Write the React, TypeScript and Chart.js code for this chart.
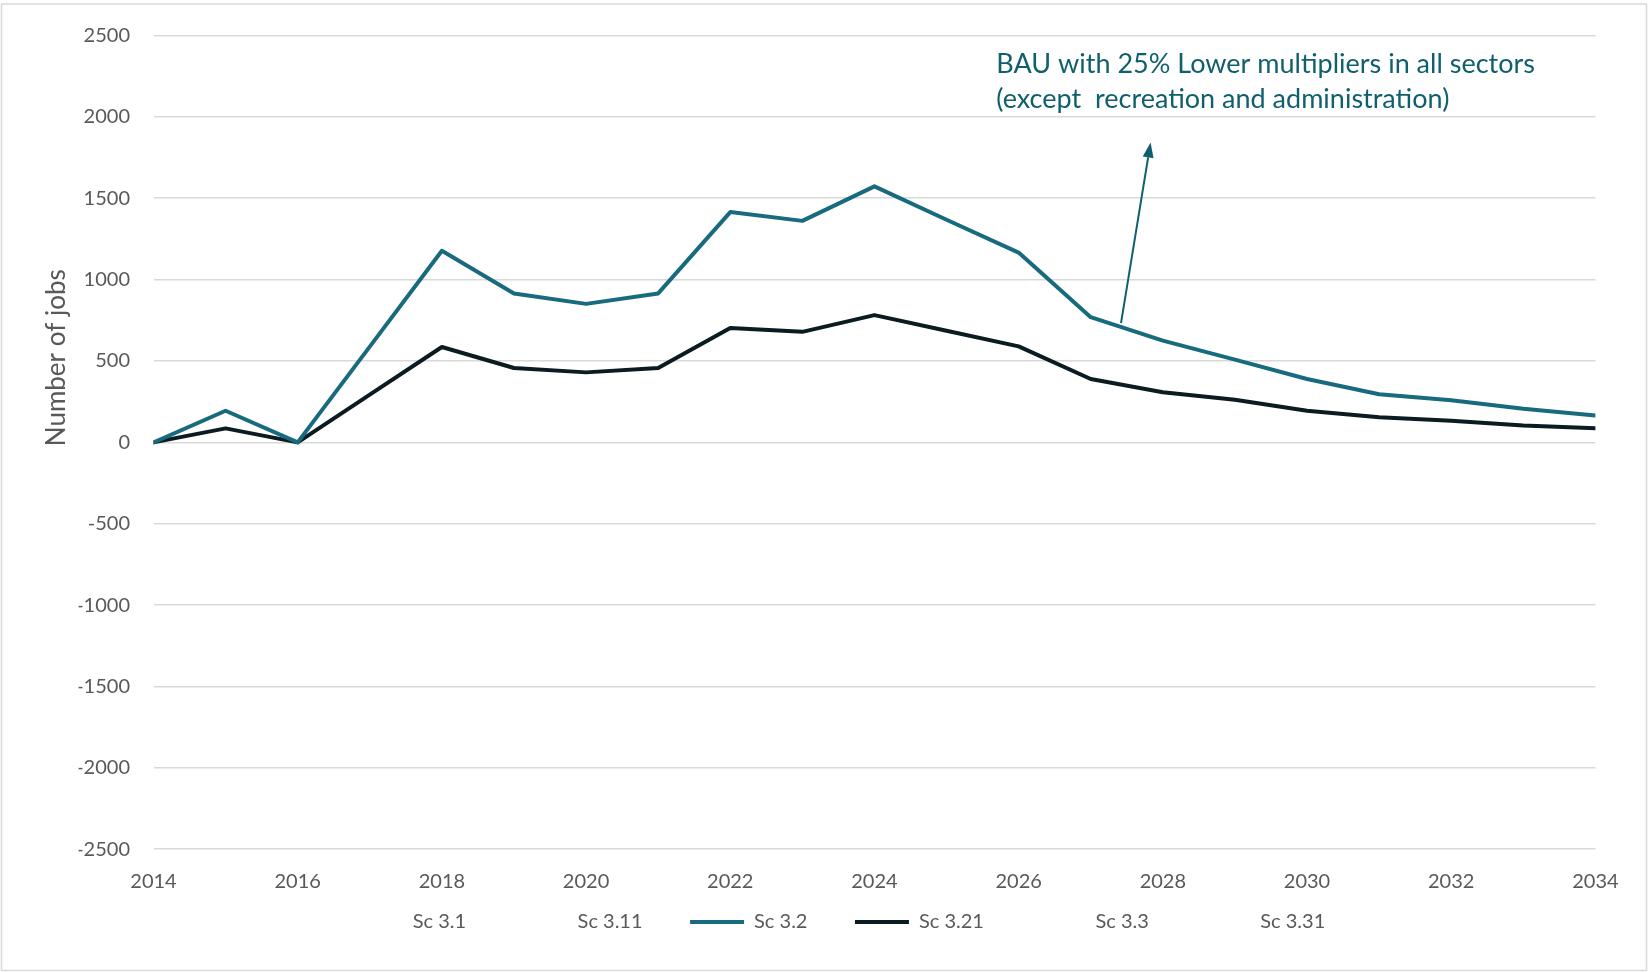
import { useEffect, useRef } from "react";
import { Chart, registerables } from "chart.js";

Chart.register(...registerables);

// ---- data ----
const years = [
  2014, 2015, 2016, 2017, 2018, 2019, 2020, 2021, 2022, 2023, 2024,
  2025, 2026, 2027, 2028, 2029, 2030, 2031, 2032, 2033, 2034,
];

const seriesLabels = ["Sc 3.1", "Sc 3.11", "Sc 3.2", "Sc 3.21", "Sc 3.3", "Sc 3.31"];

// Scenarios without a plotted line (legend entry only)
const sc31: number[] = [];
const sc311: number[] = [];
const sc33: number[] = [];
const sc331: number[] = [];

const sc32 = [
  0, 194, 0, 588, 1177, 915, 851, 915, 1415, 1361, 1573,
  1368, 1166, 769, 625, 508, 389, 296, 259, 206, 165,
];

const sc321 = [
  0, 86, 0, 293, 586, 457, 430, 457, 703, 679, 782,
  686, 590, 389, 308, 262, 194, 154, 132, 103, 86,
];

const yMin = -2500;
const yMax = 2500;
const yStep = 500;
const xStep = 2;

const axisTitle = "Number of jobs";
const noteLines = [
  "BAU with 25% Lower multipliers in all sectors",
  "(except  recreation and administration)",
];
const noteAnchor = { x: 2025.69, y: 2322 };
const arrowFrom = { x: 2027.42, y: 733 };
const arrowTo = { x: 2027.83, y: 1842 };

// ---- styles ----
const FONT = "Lato, 'Open Sans', sans-serif";
const TEXT_GREY = "#595959";
const GRID_GREY = "#d9d9d9";
const TEAL = "#186a7f";
const DARK = "#0a1b21";
const NOTE_TEAL = "#0f5f6d";
const NONE = "rgba(0,0,0,0)";

const seriesData = [sc31, sc311, sc32, sc321, sc33, sc331];
const seriesColors = [NONE, NONE, TEAL, DARK, NONE, NONE];

const LEGEND_LIFT = 27.5;

const framePlugin = {
  id: "frame",
  beforeDraw(chart: any) {
    const { ctx, width, height } = chart;
    ctx.save();
    ctx.fillStyle = "#ffffff";
    ctx.fillRect(0, 0, width, height);
    ctx.strokeStyle = GRID_GREY;
    ctx.lineWidth = 1.5;
    ctx.strokeRect(1.5, 4, width - 3, height - 5.5);
    ctx.restore();
  },
};

// pull the legend row up closer to the axis labels
const legendLiftPlugin = {
  id: "legendLift",
  afterLayout(chart: any) {
    const lg = chart.legend;
    if (!lg) return;
    lg.top -= LEGEND_LIFT;
    lg.bottom -= LEGEND_LIFT;
  },
};

const axisTitlePlugin = {
  id: "axisTitle",
  afterDraw(chart: any) {
    const { ctx, chartArea } = chart;
    const cx = 57;
    const cy = chartArea.top + (chartArea.bottom - chartArea.top) * 0.396;
    ctx.save();
    ctx.translate(cx, cy);
    ctx.rotate(-Math.PI / 2);
    ctx.font = `26px ${FONT}`;
    ctx.fillStyle = TEXT_GREY;
    ctx.textAlign = "center";
    ctx.textBaseline = "middle";
    ctx.fillText(axisTitle, 0, 0);
    ctx.restore();
  },
};

const notePlugin = {
  id: "note",
  afterDatasetsDraw(chart: any) {
    const { ctx, scales } = chart;
    const xs = scales.x;
    const ys = scales.y;
    ctx.save();

    // arrow pointing from the Sc 3.2 line up to the note
    const x1 = xs.getPixelForValue(arrowFrom.x);
    const y1 = ys.getPixelForValue(arrowFrom.y);
    const x2 = xs.getPixelForValue(arrowTo.x);
    const y2 = ys.getPixelForValue(arrowTo.y);
    const ang = Math.atan2(y2 - y1, x2 - x1);
    const headLen = 15;
    const headHalf = 5.5;
    const bx = x2 - headLen * Math.cos(ang);
    const by = y2 - headLen * Math.sin(ang);
    ctx.strokeStyle = NOTE_TEAL;
    ctx.fillStyle = NOTE_TEAL;
    ctx.lineWidth = 2;
    ctx.beginPath();
    ctx.moveTo(x1, y1);
    ctx.lineTo(bx, by);
    ctx.stroke();
    ctx.beginPath();
    ctx.moveTo(x2, y2);
    ctx.lineTo(bx + headHalf * Math.sin(ang), by - headHalf * Math.cos(ang));
    ctx.lineTo(bx - headHalf * Math.sin(ang), by + headHalf * Math.cos(ang));
    ctx.closePath();
    ctx.fill();

    // note text
    const tx = xs.getPixelForValue(noteAnchor.x);
    const ty = ys.getPixelForValue(noteAnchor.y);
    ctx.font = `27px ${FONT}`;
    ctx.textAlign = "left";
    ctx.textBaseline = "middle";
    noteLines.forEach((line, i) => ctx.fillText(line, tx, ty + i * 34.7));
    ctx.restore();
  },
};

export default function App() {
  const canvasRef = useRef<HTMLCanvasElement | null>(null);

  useEffect(() => {
    const canvas = canvasRef.current;
    if (!canvas) return;

    Chart.defaults.font.family = FONT;

    const chart = new Chart(canvas, {
      type: "line",
      data: {
        datasets: seriesLabels.map((label, i) => ({
          label,
          data: seriesData[i].map((v, j) => ({ x: years[j], y: v })),
          borderColor: seriesColors[i],
          backgroundColor: seriesColors[i],
          borderWidth: 4,
          borderJoinStyle: "round" as const,
          borderCapStyle: "round" as const,
          pointRadius: 0,
          pointHoverRadius: 0,
          tension: 0,
          fill: false,
        })),
      },
      options: {
        responsive: false,
        animation: false,
        devicePixelRatio: 1,
        layout: {
          padding: { left: 78.6, right: 52.6, top: 33.6, bottom: 2.5 },
        },
        plugins: {
          legend: {
            position: "bottom",
            onClick: () => {},
            labels: {
              boxWidth: 54,
              boxHeight: 4,
              padding: 47.5,
              color: TEXT_GREY,
              font: { size: 20, family: FONT },
              generateLabels: (c: any) =>
                c.data.datasets.map((ds: any, i: number) => ({
                  text: ds.label,
                  fillStyle: ds.borderColor,
                  strokeStyle: ds.borderColor,
                  lineWidth: 0,
                  hidden: false,
                  datasetIndex: i,
                  fontColor: TEXT_GREY,
                })),
            },
          },
          tooltip: { enabled: false },
        },
        scales: {
          x: {
            type: "linear",
            min: years[0],
            max: years[years.length - 1],
            grid: { display: false, drawTicks: false },
            border: { display: false },
            ticks: {
              stepSize: xStep,
              padding: 22.8,
              color: TEXT_GREY,
              font: { size: 20, family: FONT, lineHeight: 1 },
              maxRotation: 0,
              autoSkip: false,
              callback: (v: any) => String(v),
            },
            afterFit: (s: any) => {
              s.height = 42.8;
            },
          },
          y: {
            type: "linear",
            min: yMin,
            max: yMax,
            grid: { color: GRID_GREY, lineWidth: 1.5, drawTicks: false },
            border: { display: false },
            ticks: {
              stepSize: yStep,
              padding: 23.5,
              color: TEXT_GREY,
              font: { size: 20, family: FONT },
              callback: (v: any) => String(v),
            },
            afterFit: (s: any) => {
              s.width = 74.9;
            },
          },
        },
      },
      plugins: [framePlugin, legendLiftPlugin, axisTitlePlugin, notePlugin],
    });

    return () => chart.destroy();
  }, []);

  return (
    <div style={{ position: "absolute", left: 0, top: 0, width: 1648, height: 972 }}>
      <canvas ref={canvasRef} width={1648} height={972} style={{ display: "block" }} />
    </div>
  );
}
